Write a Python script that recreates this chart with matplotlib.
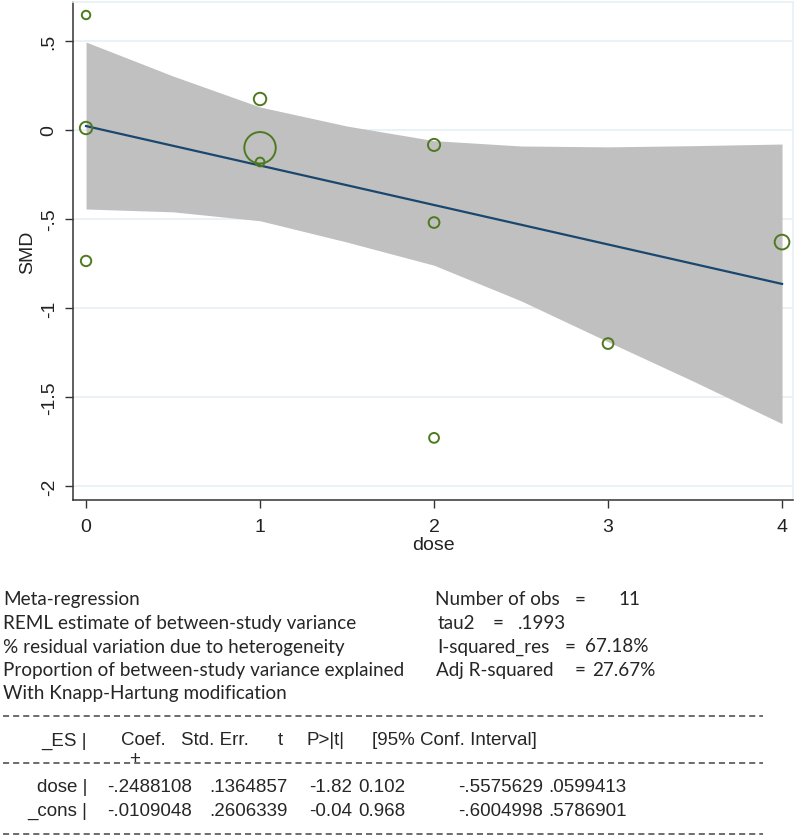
import matplotlib
matplotlib.use("Agg")
import matplotlib.pyplot as plt
from matplotlib.lines import Line2D

plt.rcParams["font.family"] = ["Liberation Sans", "DejaVu Sans"]

# study points
dose = [0, 0, 0, 1, 1, 1, 2, 2, 2, 3, 4]
smd = [0.646, 0.011, -0.736, 0.174, -0.10, -0.18, -0.084, -0.52, -1.73, -1.20, -0.63]
weight = [18.5, 40, 28, 40, 256, 20, 38, 30, 25, 30, 56]

# fitted line and confidence band
fit_x = [0, 4]
fit_y = [0.022, -0.865]
band_x = [0, 0.5, 1, 1.5, 2, 2.5, 3, 3.5, 4]
band_hi = [0.494, 0.303, 0.129, 0.022, -0.06, -0.09, -0.095, -0.088, -0.079]
band_lo = [-0.444, -0.46, -0.51, -0.63, -0.76, -0.96, -1.19, -1.416, -1.65]

xticks = [0, 1, 2, 3, 4]
yticks = [0.5, 0, -0.5, -1, -1.5, -2]
yticklabels = [".5", "0", "-.5", "-1", "-1.5", "-2"]

# regression output
info_left = ["Meta-regression",
             "REML estimate of between-study variance",
             "% residual variation due to heterogeneity",
             "Proportion of between-study variance explained",
             "With Knapp-Hartung modification"]
info_names = ["Number of obs", "tau2", "I-squared_res", "Adj R-squared"]
info_vals = ["11", ".1993", "67.18%", "27.67%"]
header = ["_ES |", "Coef.", "Std. Err.", "t", "P>|t|", "[95% Conf. Interval]"]
rows = [["dose |", "-.2488108", ".1364857", "-1.82", "0.102", "-.5575629", ".0599413"],
        ["_cons |", "-.0109048", ".2606339", "-0.04", "0.968", "-.6004998", ".5786901"]]

W, H = 797, 837
fig = plt.figure(figsize=(W / 100, H / 100), dpi=100)
fig.patch.set_facecolor("white")

def fx(x):
    return x / W

def fy(y):
    return 1 - y / H

ax = fig.add_axes([fx(73), fy(501), fx(793) - fx(73), fy(3) - fy(501)])
ax.set_xlim(-0.075, 4.063)
ax.set_ylim(-2.079, 0.719)

ax.fill_between(band_x, band_lo, band_hi, color="#c0c0c0", lw=0, zorder=1)
ax.plot(fit_x, fit_y, color="#1a476f", lw=1.6, zorder=2)
ax.scatter(dose, smd, s=[w * 2.0 for w in weight], facecolors="none",
           edgecolors="#4e7a1f", linewidths=1.4, zorder=3)

for y in yticks:
    ax.axhline(y, color="#e8f0f3", lw=1.2, zorder=0)

ax.set_xticks(xticks)
ax.set_xticklabels([str(v) for v in xticks])
ax.set_yticks(yticks)
ax.set_yticklabels(yticklabels, rotation=90, va="center")
ax.tick_params(axis="both", length=6, width=1, color="#333333",
               labelcolor="#222222", labelsize=14)
ax.tick_params(axis="x", pad=7)
ax.tick_params(axis="y", pad=5)
ax.set_xlabel("dose", fontsize=14, color="#222222", labelpad=1)
ax.set_ylabel("SMD", fontsize=14, color="#222222", labelpad=3)

for side in ["left", "bottom"]:
    ax.spines[side].set_color("#333333")
    ax.spines[side].set_linewidth(1.1)
for side in ["top", "right"]:
    ax.spines[side].set_color("#e8f0f3")
    ax.spines[side].set_linewidth(1.2)

# text block below the plot
txtfont = dict(family="Lato", size=13.6, color="#262626")
for i, s in enumerate(info_left):
    fig.text(fx(3), fy(600 + i * 23.5), s, va="center", ha="left", **txtfont)
name_x = [435, 438, 437, 436]
eq_x = [575, 493, 565, 575]
val_x = [618, 518, 585, 592]
for i in range(len(info_names)):
    y = fy(600 + i * 23.5)
    fig.text(fx(name_x[i]), y, info_names[i], va="center", ha="left", **txtfont)
    fig.text(fx(eq_x[i]), y, "=", va="center", ha="left", **txtfont)
    fig.text(fx(val_x[i]), y, info_vals[i], va="center", ha="left", **txtfont)

tabfont = dict(family="Liberation Sans", size=13.5, color="#262626")

def dashes(y, x0=3, x1=763):
    fig.add_artist(Line2D([fx(x0), fx(x1)], [fy(y), fy(y)], color="#444444",
                          lw=1.1, dashes=(4.0, 2.6), transform=fig.transFigure))

dashes(717)
dashes(764)
fig.text(fx(135), fy(764), "+", ha="center", va="baseline", **tabfont)
dashes(835)

# header: _ES | right aligned, the rest left aligned
fig.text(fx(87), fy(741), header[0], ha="right", va="center", **tabfont)
head_x = [121, 181, 278, 307, 372]
for x, s in zip(head_x, header[1:]):
    fig.text(fx(x), fy(741), s, ha="left", va="center", **tabfont)

col_x = [107, 209, 309, 358, 458, 548]
for r, row in enumerate(rows):
    y = 788 + r * 23.5
    fig.text(fx(87), fy(y), row[0], ha="right", va="center", **tabfont)
    for x, s in zip(col_x, row[1:]):
        fig.text(fx(x), fy(y), s, ha="left", va="center", **tabfont)

fig.savefig("out.png", dpi=100)
